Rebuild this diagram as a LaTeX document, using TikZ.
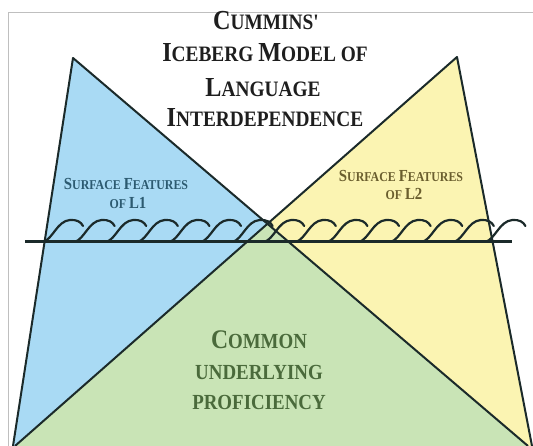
\documentclass[tikz,border=0pt]{standalone}
\usepackage{fontspec}
\usepackage{graphicx}
\usepackage{tikz}
\newfontfamily\icefont{Liberation Serif}[FakeStretch=0.88]
\definecolor{iceBlue}{HTML}{A9DAF4}
\definecolor{iceYellow}{HTML}{FBF4B2}
\definecolor{iceGreen}{HTML}{C9E4B6}
\definecolor{iceLine}{HTML}{1B2A2A}
\definecolor{iceTitle}{HTML}{1E1E1E}
\definecolor{iceTeal}{HTML}{2C5A70}
\definecolor{iceOlive}{HTML}{6A5E2E}
\definecolor{iceMoss}{HTML}{4A6A3B}
\newcommand\capl[1]{\scalebox{1.25}{#1}}

\begin{document}
\begin{tikzpicture}[x=1pt, y=1pt,
  edge/.style={iceLine, line width=2pt, line join=round},
  wave/.style={iceLine, line width=2.2pt, line cap=round},
  title/.style={anchor=base, text=iceTitle, font=\icefont\bfseries\fontsize{22}{22}\selectfont},
  surface/.style={anchor=base, font=\icefont\bfseries\fontsize{13.5}{13.5}\selectfont},
  base/.style={anchor=base, text=iceMoss, font=\icefont\bfseries\fontsize{21.5}{21.5}\selectfont}]
  \useasboundingbox (0,0) rectangle (533,446);
  \fill[white] (0,0) rectangle (533,446);

  % Frame
  \draw[black!25, line width=1pt] (8,0) -- (8,433) -- (533,433);

  % Corners of the two icebergs
  \coordinate (blueTop) at (73,388);
  \coordinate (blueLeft) at (13,0);
  \coordinate (blueRight) at (528,0);
  \coordinate (yellowTop) at (457,389);
  \coordinate (yellowLeft) at (15,0);
  \coordinate (yellowRight) at (532,0);

  % Fills, overlap in green
  \fill[iceBlue] (blueTop) -- (blueLeft) -- (blueRight) -- cycle;
  \fill[iceYellow] (yellowTop) -- (yellowLeft) -- (yellowRight) -- cycle;
  \begin{scope}
    \clip (blueTop) -- (blueLeft) -- (blueRight) -- cycle;
    \fill[iceGreen] (yellowTop) -- (yellowLeft) -- (yellowRight) -- cycle;
  \end{scope}

  % Outlines
  \draw[edge] (blueLeft) -- (blueTop) -- (blueRight);
  \draw[edge] (yellowLeft) -- (yellowTop) -- (yellowRight);

  % Waterline and waves
  \coordinate (waterL) at (25,204);
  \coordinate (waterR) at (512,204);
  \foreach \c in {0,...,14}{
    \pgfmathsetmacro\cx{70+31.6*\c}
    \draw[wave, shift={(\cx,204)}] (-27,0) .. controls (-17,3) and (-13,21) .. (0,22)
      .. controls (7,22.5) and (11,20) .. (13,16);
  }
  \draw[iceLine, line width=3pt] (waterL) -- (waterR);

  % Title
  \node[title] (t1) at (266,416) {\capl{C}UMMINS'};
  \node[title] (t2) at (265,384) {\capl{I}CEBERG \capl{M}ODEL OF};
  \node[title] (t3) at (263,349) {\capl{L}ANGUAGE};
  \node[title] (t4) at (265,319) {\capl{I}NTERDEPENDENCE};

  % Surface features
  \node[surface, text=iceTeal] (s1a) at (126,256) {\capl{S}URFACE \capl{F}EATURES};
  \node[surface, text=iceTeal] (s1b) at (128,237) {OF \capl{L}\capl{1}};
  \node[surface, text=iceOlive] (s2a) at (401,264) {\capl{S}URFACE \capl{F}EATURES};
  \node[surface, text=iceOlive] (s2b) at (404,246) {OF \capl{L}\capl{2}};

  % Common underlying proficiency
  \node[base] (c1) at (259,97) {\capl{C}OMMON};
  \node[base] (c2) at (259,66) {UNDERLYING};
  \node[base] (c3) at (259,36) {PROFICIENCY};
\end{tikzpicture}
\end{document}
